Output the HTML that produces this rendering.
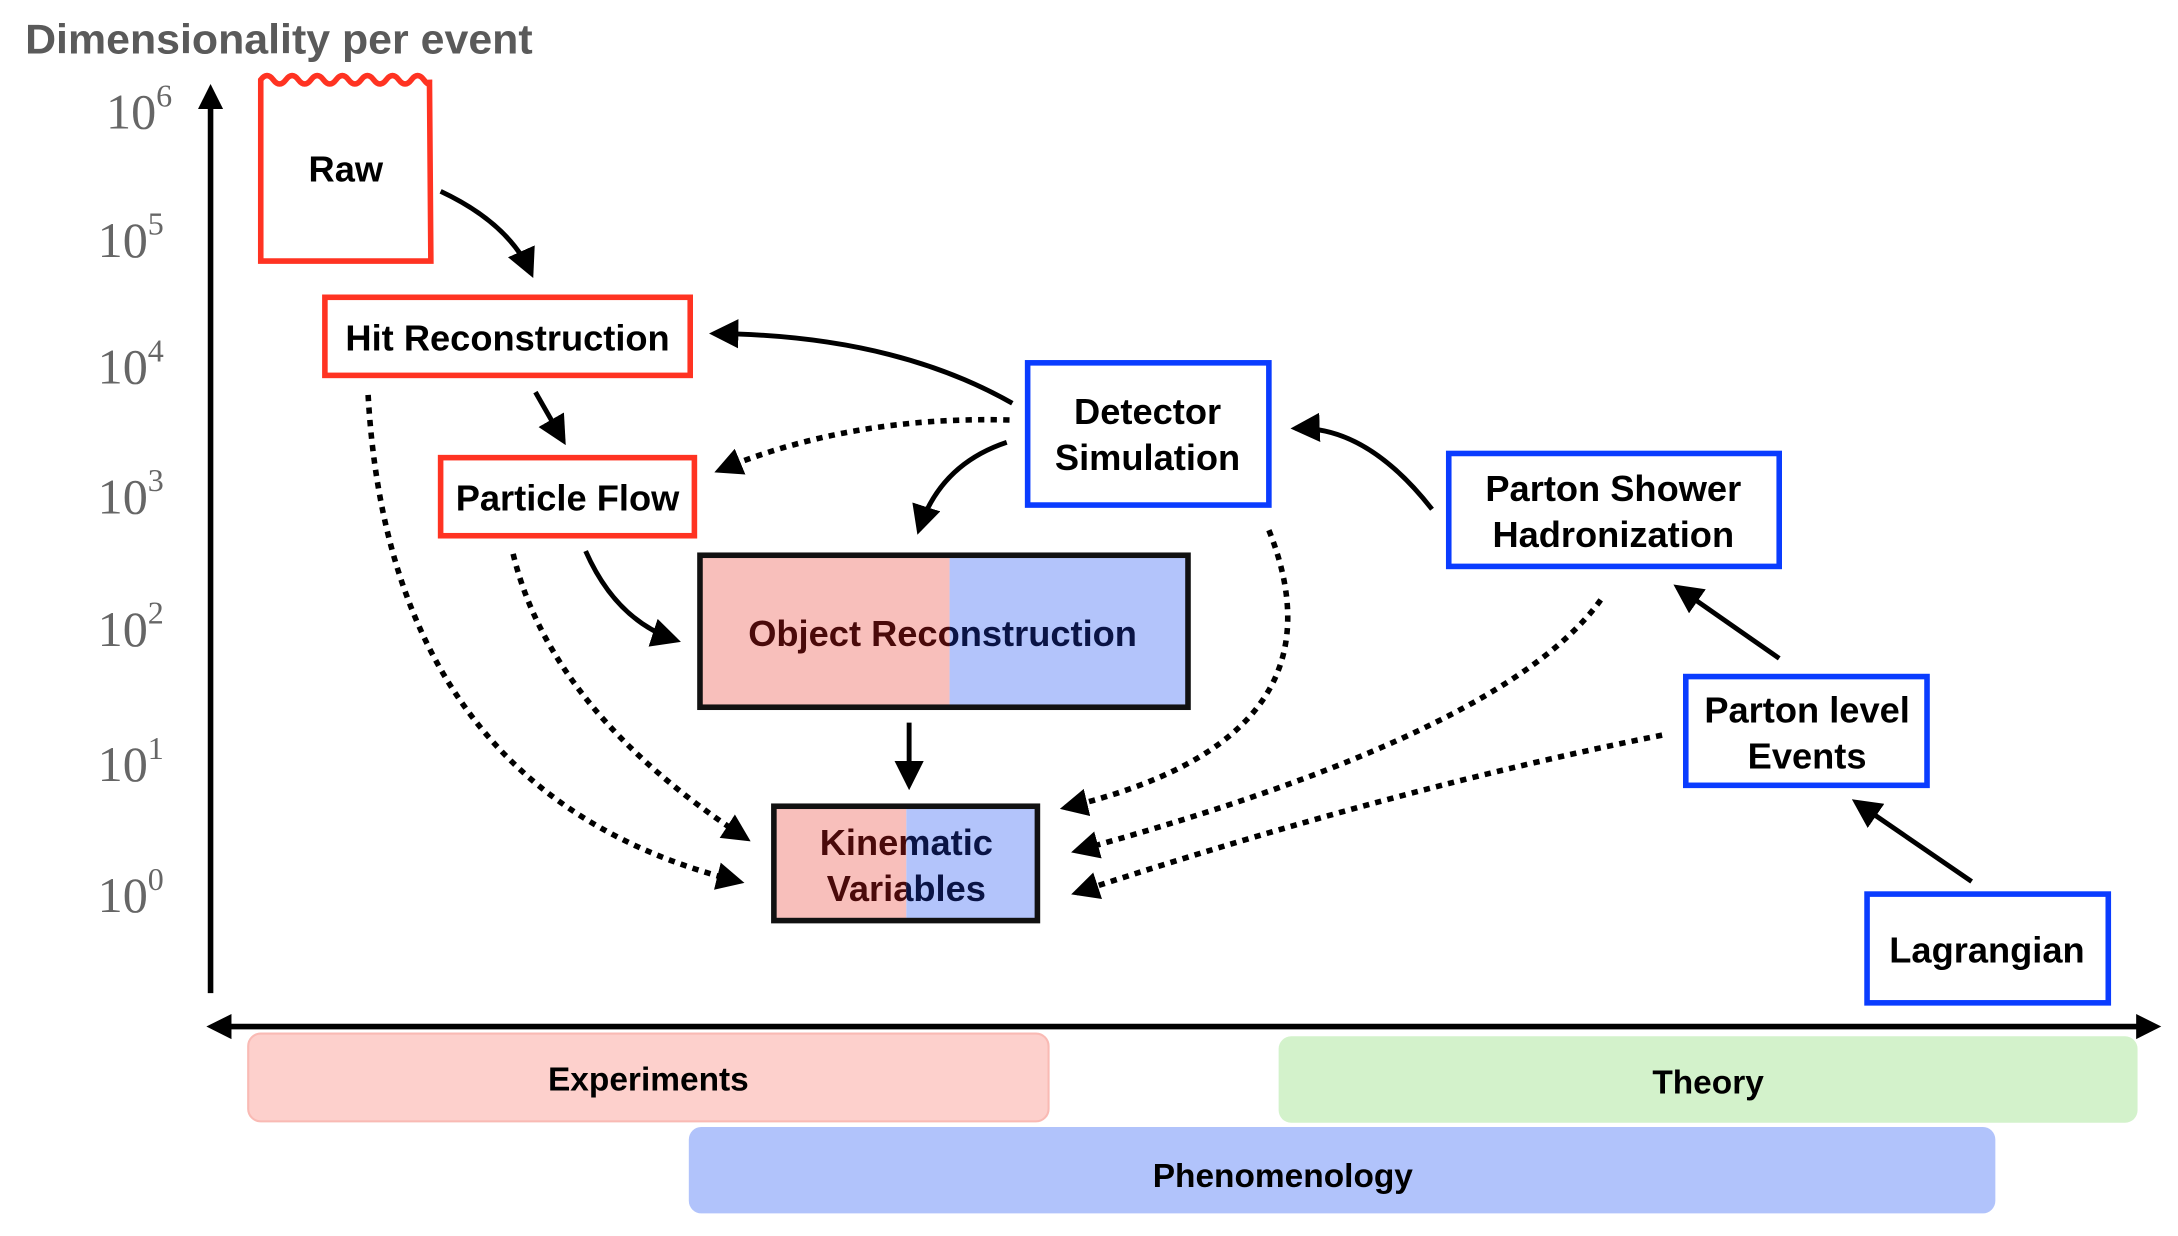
<!DOCTYPE html>
<html><head><meta charset="utf-8"><style>
html,body{margin:0;padding:0;background:#fff;}
svg{display:block}
text{font-family:"Liberation Sans",Arial,sans-serif;}
.lbl{font-size:26px;font-weight:bold;fill:#000;text-anchor:middle}
.tick{font-family:"Liberation Serif",serif;font-size:36px;fill:#666}
.sup{font-size:23px}
</style></head><body>
<svg width="2178" height="1236" viewBox="0 0 1562 886" xmlns="http://www.w3.org/2000/svg">
<defs>
<marker id="ah" markerWidth="6" markerHeight="6" refX="5" refY="3" orient="auto" markerUnits="strokeWidth">
<path d="M0,0 L6,3 L0,6 z" fill="#000"/></marker>
<marker id="ah2" markerWidth="5" markerHeight="5" refX="4" refY="2.5" orient="auto" markerUnits="strokeWidth">
<path d="M0,0 L5,2.5 L0,5 z" fill="#000"/></marker>
<clipPath id="objL"><rect x="500" y="390" width="181" height="130"/></clipPath>
<clipPath id="objR"><rect x="681" y="390" width="180" height="130"/></clipPath>
<clipPath id="kinL"><rect x="550" y="570" width="100" height="100"/></clipPath>
<clipPath id="kinR"><rect x="650" y="570" width="100" height="100"/></clipPath>
</defs>

<text x="18" y="38" style="font-size:30px;font-weight:bold;fill:#5a5a5a" textLength="364" lengthAdjust="spacingAndGlyphs">Dimensionality per event</text>

<!-- axes -->
<line x1="151" y1="712" x2="151" y2="74" stroke="#000" stroke-width="4"/>
<path d="M142,78 L151,60 L160,78 z" fill="#000"/>
<line x1="164" y1="736" x2="1536" y2="736" stroke="#000" stroke-width="4"/>
<path d="M148,736 L166,727 L166,745 z" fill="#000"/>
<path d="M1550,736 L1532,727 L1532,745 z" fill="#000"/>

<!-- ticks -->
<text class="tick" x="76" y="92">10<tspan class="sup" dy="-16">6</tspan></text>
<text class="tick" x="70" y="184">10<tspan class="sup" dy="-16">5</tspan></text>
<text class="tick" x="70" y="275">10<tspan class="sup" dy="-16">4</tspan></text>
<text class="tick" x="70" y="368">10<tspan class="sup" dy="-16">3</tspan></text>
<text class="tick" x="70" y="463">10<tspan class="sup" dy="-16">2</tspan></text>
<text class="tick" x="70" y="560">10<tspan class="sup" dy="-16">1</tspan></text>
<text class="tick" x="70" y="654">10<tspan class="sup" dy="-16">0</tspan></text>

<!-- bars -->
<rect x="178" y="741" width="574" height="63" rx="9" fill="#fdd0cc" stroke="#f9bab4" stroke-width="1.5"/>
<text class="lbl" x="465" y="782" style="font-size:24px">Experiments</text>
<rect x="917" y="743" width="616" height="62" rx="9" fill="#d3f2cb"/>
<text class="lbl" x="1225" y="784" style="font-size:24px">Theory</text>
<rect x="494" y="808" width="937" height="62" rx="9" fill="#b1c3fb"/>
<text class="lbl" x="920" y="851" style="font-size:24px">Phenomenology</text>

<!-- Raw -->
<path d="M187,187 L187,57 q4.5,-6 9,0 t9,0 t9,0 t9,0 t9,0 t9,0 t9,0 t9,0 t9,0 t9,0 t9,0 t9,0 t9,0 t4,0 L309,187 z" fill="#fff" stroke="#ff3322" stroke-width="4"/>
<text class="lbl" x="248" y="130">Raw</text>

<rect x="233" y="213" width="262" height="56" fill="#fff" stroke="#ff3322" stroke-width="4"/>
<text class="lbl" x="364" y="251">Hit Reconstruction</text>
<rect x="316" y="328" width="182" height="56" fill="#fff" stroke="#ff3322" stroke-width="4"/>
<text class="lbl" x="407" y="366">Particle Flow</text>

<!-- Object Reconstruction -->
<rect x="502" y="398" width="179" height="109" fill="#f8bfbb"/>
<rect x="681" y="398" width="171" height="109" fill="#b3c4fb"/>
<rect x="502" y="398" width="350" height="109" fill="none" stroke="#111" stroke-width="4"/>
<text class="lbl" x="676" y="463" clip-path="url(#objL)" style="fill:#4a0a0a">Object Reconstruction</text>
<text class="lbl" x="676" y="463" clip-path="url(#objR)" style="fill:#0a1445">Object Reconstruction</text>

<!-- Kinematic -->
<rect x="555" y="578" width="95" height="82" fill="#f8bfbb"/>
<rect x="650" y="578" width="94" height="82" fill="#b3c4fb"/>
<rect x="555" y="578" width="189" height="82" fill="none" stroke="#111" stroke-width="4"/>
<g clip-path="url(#kinL)"><text class="lbl" x="650" y="613" style="fill:#4a0a0a">Kinematic</text><text class="lbl" x="650" y="646" style="fill:#4a0a0a">Variables</text></g>
<g clip-path="url(#kinR)"><text class="lbl" x="650" y="613" style="fill:#0a1445">Kinematic</text><text class="lbl" x="650" y="646" style="fill:#0a1445">Variables</text></g>

<!-- blue boxes -->
<rect x="737" y="260" width="173" height="102" fill="#fff" stroke="#0a3cff" stroke-width="4"/>
<text class="lbl" x="823" y="304">Detector</text><text class="lbl" x="823" y="337">Simulation</text>
<rect x="1039" y="325" width="237" height="81" fill="#fff" stroke="#0a3cff" stroke-width="4"/>
<text class="lbl" x="1157" y="359">Parton Shower</text><text class="lbl" x="1157" y="392">Hadronization</text>
<rect x="1209" y="485" width="173" height="78" fill="#fff" stroke="#0a3cff" stroke-width="4"/>
<text class="lbl" x="1296" y="518">Parton level</text><text class="lbl" x="1296" y="551">Events</text>
<rect x="1339" y="641" width="173" height="78" fill="#fff" stroke="#0a3cff" stroke-width="4"/>
<text class="lbl" x="1425" y="690">Lagrangian</text>

<!-- solid arrows -->
<g fill="none" stroke="#000" stroke-width="3.5" marker-end="url(#ah)">
<path d="M316,137 Q365,160 381,196"/>
<path d="M384,281 L404,316"/>
<path d="M726,289 Q640,240 512,239"/>
<path d="M722,317 Q674,333 659,380"/>
<path d="M420,395 Q442,445 485,459"/>
<path d="M652,518 L652,563"/>
<path d="M1027,365 Q980,305 929,307"/>
<path d="M1276,472 L1203,421"/>
<path d="M1414,632 L1331,575"/>
</g>
<!-- dotted arrows -->
<g fill="none" stroke="#000" stroke-width="4" stroke-dasharray="4.5 4.5" marker-end="url(#ah2)">
<path d="M724,301 Q610,298 516,337"/>
<path d="M264,283 Q280,570 530,632"/>
<path d="M368,397 Q395,510 535,601"/>
<path d="M910,380 Q970,530 764,579"/>
<path d="M1148,430 Q1080,525 772,610"/>
<path d="M1192,527 Q1000,565 772,640"/>
</g>
</svg>
</body></html>
